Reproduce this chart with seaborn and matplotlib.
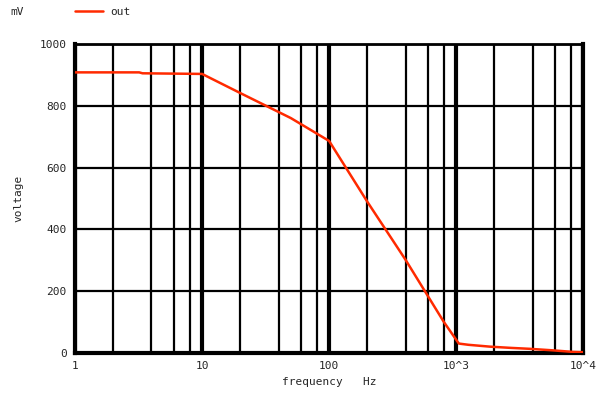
import numpy as np
import pandas as pd
import matplotlib
matplotlib.use("Agg")
import matplotlib.pyplot as plt
import seaborn as sns

# ── data ────────────────────────────────────────────────────
freq_hz = [1, 3.2, 3.4, 10, 20, 50, 100, 200, 400, 800, 1050, 1250, 1850, 2700, 3800, 5800, 8300, 10000]
out_mv = [908, 908, 905, 903, 841, 760, 686, 489, 301, 100, 30, 26, 20, 16, 13, 8, 3, 2]

x_ticks = [1, 10, 100, 1000, 10000]
x_tick_labels = ["1", "10", "100", "10^3", "10^4"]
y_ticks = [0, 200, 400, 600, 800, 1000]

df = pd.DataFrame({"frequency": freq_hz, "voltage": out_mv})

sns.set_style("white")
plt.rcParams['font.family'] = ['DejaVu Sans Mono']

fig = plt.figure(figsize=(6.0, 3.96), dpi=100)
ax = fig.add_axes([0.125, 0.109, 0.847, 0.780])

# ── grid: thick decade lines, thinner lines at 2, 4, 6, 8 ───
for d in [1, 10, 100, 1000, 10000]:
    ax.axvline(d, color="black", lw=3.0, zorder=1)
for d in [1, 10, 100, 1000]:
    for m in [2, 4, 6, 8]:
        ax.axvline(d * m, color="black", lw=1.6, zorder=1)
for y in y_ticks:
    ax.axhline(y, color="black", lw=1.6, zorder=1)

sns.lineplot(data=df, x="frequency", y="voltage", color="#ff2a00", lw=1.8,
             ax=ax, zorder=3, label="out", legend=False)

ax.set_xscale("log")
ax.set_xlim(1, 10000)
ax.set_ylim(0, 1000)
ax.set_xticks(x_ticks)
ax.set_xticklabels(x_tick_labels)
ax.set_yticks(y_ticks)
ax.minorticks_off()
ax.tick_params(length=0, labelsize=8, pad=6)

for side in ["left", "bottom", "right"]:
    ax.spines[side].set_linewidth(3.0)
    ax.spines[side].set_color("black")
ax.spines["top"].set_linewidth(2.0)
ax.spines["top"].set_color("black")

ax.set_xlabel("frequency   Hz", fontsize=8, labelpad=4)
ax.set_ylabel("voltage", fontsize=8, labelpad=12)

# unit label and legend above the plot
fig.text(10 / 600, 1 - 12 / 396, "mV", fontsize=8, va="center", ha="left")
fig.add_artist(plt.Line2D([75 / 600, 103 / 600], [1 - 11 / 396, 1 - 11 / 396],
                          color="#ff2a00", lw=1.8))
fig.text(110 / 600, 1 - 12 / 396, "out", fontsize=8, va="center", ha="left")

plt.savefig("out.png", dpi=100)
